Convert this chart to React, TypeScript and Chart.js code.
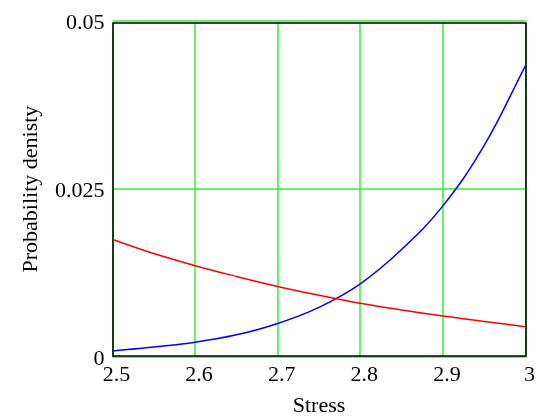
import React, { useEffect, useRef } from "react";
import { Chart, registerables } from "chart.js";

Chart.register(...registerables);

const STRESS = [2.5, 2.55, 2.6, 2.65, 2.7, 2.75, 2.8, 2.85, 2.9, 2.95, 3.0];
const RED_SERIES = [0.0175, 0.0154, 0.0136, 0.012, 0.0105, 0.0092, 0.008, 0.007, 0.0061, 0.0053, 0.0045];
const BLUE_SERIES = [0.0009, 0.0015, 0.0022, 0.0033, 0.005, 0.0074, 0.0109, 0.016, 0.0225, 0.0315, 0.0434];
const X_TICKS = [2.5, 2.6, 2.7, 2.8, 2.9, 3.0];
const X_TICK_LABELS = ["2.5", "2.6", "2.7", "2.8", "2.9", "3"];
const Y_TICKS = [0, 0.025, 0.05];
const Y_TICK_LABELS = ["0", "0.025", "0.05"];
const X_TITLE = "Stress";
const Y_TITLE = "Probability denisty";

const FONT = "'Liberation Serif', 'Times New Roman', serif";
const GRID = "#33ee33";

const framePlugin = {
  id: "frameGrid",
  beforeDatasetsDraw(chart: any) {
    const { ctx, chartArea, scales } = chart;
    const { left, right, top, bottom } = chartArea;
    ctx.save();
    ctx.lineWidth = 1.5;
    ctx.strokeStyle = GRID;
    ctx.beginPath();
    for (const v of X_TICKS) {
      const px = Math.round(scales.x.getPixelForValue(v));
      ctx.moveTo(px, top + 2);
      ctx.lineTo(px, bottom);
    }
    for (const v of Y_TICKS) {
      const py = Math.round(scales.y.getPixelForValue(v));
      ctx.moveTo(left, py);
      ctx.lineTo(right, py);
    }
    ctx.stroke();
    ctx.strokeStyle = "#000000";
    ctx.lineWidth = 1.5;
    const l = Math.round(left);
    const r = Math.round(right);
    const t = Math.round(top + 2);
    const b = Math.round(bottom - 1);
    ctx.strokeRect(l, t, r - l, b - t);
    ctx.restore();
  },
};

export default function App() {
  const ref = useRef<HTMLCanvasElement | null>(null);
  useEffect(() => {
    if (!ref.current) return;
    const chart = new Chart(ref.current, {
      type: "line",
      data: {
        datasets: [
          {
            data: STRESS.map((x, i) => ({ x, y: RED_SERIES[i] })),
            borderColor: "#ff0000",
            borderWidth: 1.5,
            pointRadius: 0,
            tension: 0.4,
            fill: false,
          },
          {
            data: STRESS.map((x, i) => ({ x, y: BLUE_SERIES[i] })),
            borderColor: "#0000ff",
            borderWidth: 1.5,
            pointRadius: 0,
            tension: 0.4,
            fill: false,
          },
        ],
      },
      options: {
        animation: false,
        responsive: false,
        devicePixelRatio: 1,
        layout: { padding: { left: 0, top: 19, right: 17.5, bottom: 0 } },
        plugins: { legend: { display: false }, tooltip: { enabled: false } },
        scales: {
          x: {
            type: "linear",
            min: 2.5,
            max: 3,
            afterBuildTicks: (s: any) => {
              s.ticks = X_TICKS.map((v) => ({ value: v }));
            },
            afterFit: (s: any) => {
              s.height = 60;
            },
            ticks: {
              callback: (_v: any, i: number) => X_TICK_LABELS[i],
              font: { family: FONT, size: 22 },
              color: "#000000",
              padding: 5,
              labelOffset: 4,
              maxRotation: 0,
              autoSkip: false,
            },
            grid: { display: false, drawTicks: false },
            border: { display: false },
            title: {
              display: true,
              text: X_TITLE,
              font: { family: FONT, size: 22 },
              color: "#000000",
              padding: { top: 0, bottom: -2 },
            },
          },
          y: {
            type: "linear",
            min: 0,
            max: 0.05,
            afterBuildTicks: (s: any) => {
              s.ticks = Y_TICKS.map((v) => ({ value: v }));
            },
            afterFit: (s: any) => {
              s.width = 112.5;
            },
            ticks: {
              callback: (_v: any, i: number) => Y_TICK_LABELS[i],
              font: { family: FONT, size: 22 },
              color: "#000000",
              padding: 8,
              labelOffset: 2,
              autoSkip: false,
            },
            grid: { display: false, drawTicks: false },
            border: { display: false },
            title: {
              display: true,
              text: Y_TITLE,
              font: { family: FONT, size: 22 },
              color: "#000000",
              padding: { top: 18, bottom: 0 },
            },
          },
        },
      },
      plugins: [framePlugin],
    } as any);
    return () => chart.destroy();
  }, []);
  return (
    <div style={{ position: "fixed", left: 0, top: 0, width: 543, height: 417, background: "#ffffff" }}>
      <canvas ref={ref} width={543} height={417} style={{ display: "block" }} />
    </div>
  );
}
